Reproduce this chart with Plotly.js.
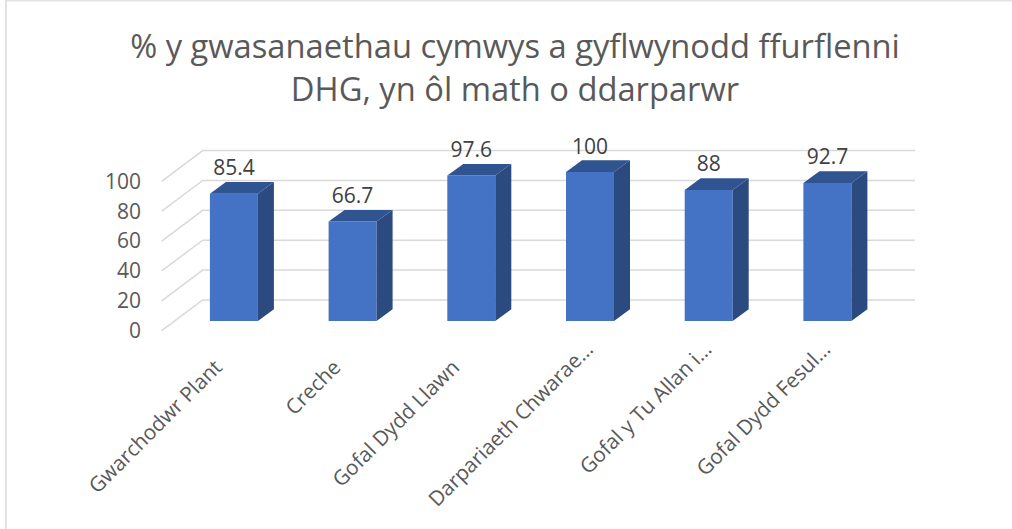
<!DOCTYPE html>
<html><head><meta charset="utf-8">
<script src="https://cdn.plot.ly/plotly-3.0.1.min.js"></script>
<style>html,body{margin:0;padding:0;background:#fff}</style></head>
<body><div id="chart" style="width:1012px;height:529px"></div>
<script>
const categories = ["Gwarchodwr Plant","Creche","Gofal Dydd Llawn","Darpariaeth Chwarae…","Gofal y Tu Allan i…","Gofal Dydd Fesul…"];
const values = [85.4,66.7,97.6,100,88,92.7];
const axisTicks = [0,20,40,60,80,100];
const idx = categories.map((_,i)=>i);

// plot area in pixels -> axis ranges
const W=1012,H=529,pL=150,pR=930,pT=140,pB=340;
const xPx0=233.9,xStep=118.7,labelShift=18;
const xOf=p=>(p-xPx0)/xStep;
const xLab=p=>(p-xPx0+labelShift)/xStep;
const wallZero=330.7,wallScale=1.494,barZero=321,barScale=1.49;
const wallY=p=>(wallZero-p)/wallScale, barY=p=>(barZero-p)/barScale;
const halfW=0.2022, depthX=16/xStep, depthY=11.7/barScale;
const wallDepth=30.7/wallScale;
const gx0=xLab(161.7),gx1=xLab(202.7),gx2=xLab(915);

const gridX=[],gridY=[];
axisTicks.forEach(t=>{gridX.push(gx0,gx1,gx2,null);gridY.push(t,t+wallDepth,t+wallDepth,null);});
const sideX=[],sideY=[],topX=[],topY=[];
idx.forEach(i=>{const v=values[i],r=i+halfW,l=i-halfW;
 sideX.push(r,r+depthX,r+depthX,r,r,null);sideY.push(v,v+depthY,depthY,0,v,null);
 topX.push(l,r,r+depthX,l+depthX,l,null);topY.push(v,v,v+depthY,v+depthY,v,null);});

// whole labels hang from one axis, the truncated ones from the bars' axis
const wholeIdx=idx.slice(0,3), cutIdx=idx.slice(3);
const labelFont={family:'Open Sans',size:20.7,color:'#595959'};

const traces=[
 {type:'scatter',mode:'lines',x:gridX,y:gridY,line:{color:'#D9D9D9',width:1.5},xaxis:'x',yaxis:'y',hoverinfo:'skip',showlegend:false},
 {type:'bar',x:idx,y:values,width:halfW*2,marker:{color:'#4472C4',line:{width:0}},xaxis:'x2',yaxis:'y2',showlegend:false},
 {type:'scatter',mode:'lines',x:sideX,y:sideY,fill:'toself',fillcolor:'#2A4A80',line:{width:0,color:'#2A4A80'},xaxis:'x2',yaxis:'y2',hoverinfo:'skip',showlegend:false},
 {type:'scatter',mode:'lines',x:topX,y:topY,fill:'toself',fillcolor:'#30548F',line:{width:0,color:'#30548F'},xaxis:'x2',yaxis:'y2',hoverinfo:'skip',showlegend:false},
 {type:'scatter',mode:'text',x:idx,y:values.map(v=>v+depthY+12/barScale),text:values.map(String),textposition:'middle center',textfont:{family:'Open Sans',size:21,color:'#404040'},xaxis:'x2',yaxis:'y2',hoverinfo:'skip',showlegend:false,cliponaxis:false}
];
const layout={
 width:W,height:H,margin:{l:pL,r:W-pR,t:pT,b:H-pB,pad:0},paper_bgcolor:'#fff',plot_bgcolor:'rgba(0,0,0,0)',showlegend:false,
 font:{family:'Open Sans',color:'#595959'},
 title:{text:'% y gwasanaethau cymwys a gyflwynodd ffurflenni<br>DHG, yn ôl math o ddarparwr',font:{family:'Open Sans',size:32.7,color:'#595959'},x:515/W,xanchor:'center',xref:'container',y:1-58/H,yanchor:'middle'},
 xaxis:{range:[xLab(pL),xLab(pR)],tickmode:'array',tickvals:wholeIdx,ticktext:wholeIdx.map(i=>categories[i]),tickangle:-45,tickfont:labelFont,showgrid:false,zeroline:false,showline:false,ticks:'',ticklabelstandoff:10},
 xaxis2:{range:[xOf(pL),xOf(pR)],overlaying:'x',anchor:'free',position:0.04,tickmode:'array',tickvals:cutIdx,ticktext:cutIdx.map(i=>categories[i]),tickangle:-45,tickfont:labelFont,showgrid:false,zeroline:false,showline:false,ticks:'',ticklabelshift:-3},
 yaxis:{range:[wallY(pB),wallY(pT)],tickmode:'array',tickvals:axisTicks,tickfont:{family:'Open Sans',size:21,color:'#595959'},showgrid:false,zeroline:false,showline:false,ticks:'',ticklabelstandoff:8},
 yaxis2:{range:[barY(pB),barY(pT)],overlaying:'y',showticklabels:false,showgrid:false,zeroline:false,showline:false,ticks:''},
 shapes:[
  {type:'line',xref:'paper',yref:'paper',x0:(6-pL)/(pR-pL),x1:(6-pL)/(pR-pL),y0:(pB-H)/(pB-pT),y1:(pB-0)/(pB-pT),line:{color:'#E2E2E2',width:2}},
  {type:'line',xref:'paper',yref:'paper',x0:(6-pL)/(pR-pL),x1:(W-pL)/(pR-pL),y0:(pB-0.5)/(pB-pT),y1:(pB-0.5)/(pB-pT),line:{color:'#E2E2E2',width:2}}
 ]
};
Plotly.newPlot('chart',traces,layout,{displayModeBar:false,responsive:false});
</script></body></html>
